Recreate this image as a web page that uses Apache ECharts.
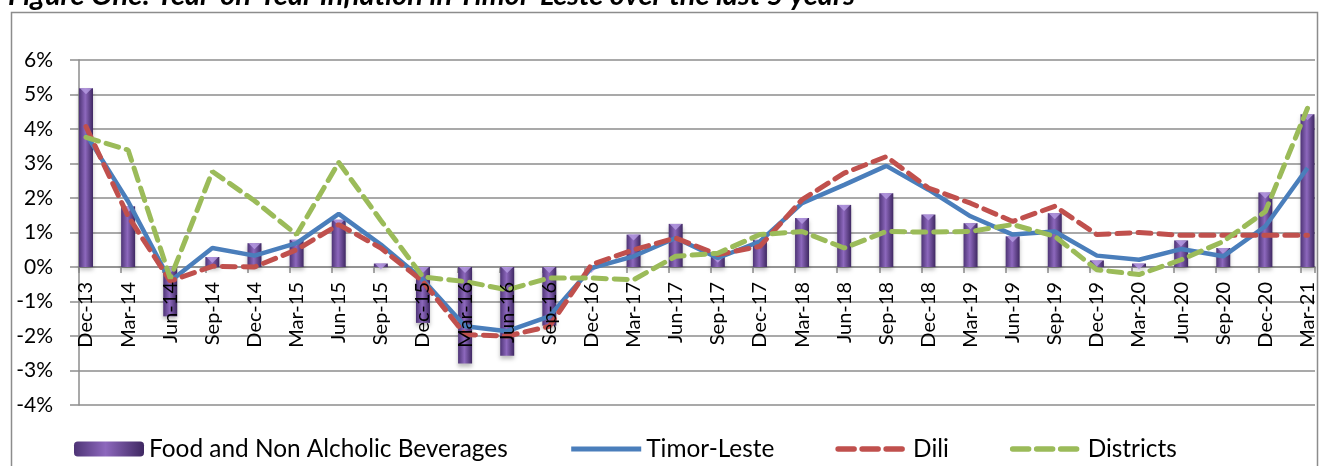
<!DOCTYPE html>
<html>
<head>
<meta charset="utf-8">
<script src="https://cdn.jsdelivr.net/npm/echarts@6/dist/echarts.min.js"></script>
<style>
  html, body { margin: 0; padding: 0; background: #fff; }
  #chart { width: 1319px; height: 466px; }
</style>
</head>
<body>
<div id="chart"></div>
<script>
(function() {
  // quarterly year-on-year inflation, in %
  var quarters = ['Dec-13', 'Mar-14', 'Jun-14', 'Sep-14', 'Dec-14', 'Mar-15', 'Jun-15', 'Sep-15', 'Dec-15', 'Mar-16',
    'Jun-16', 'Sep-16', 'Dec-16', 'Mar-17', 'Jun-17', 'Sep-17', 'Dec-17', 'Mar-18', 'Jun-18', 'Sep-18',
    'Dec-18', 'Mar-19', 'Jun-19', 'Sep-19', 'Dec-19', 'Mar-20', 'Jun-20', 'Sep-20', 'Dec-20', 'Mar-21'];
  var food = [5.18, 1.76, -1.43, 0.29, 0.69, 0.79, 1.37, 0.1, -1.62, -2.8,
    -2.57, -1.7, 0, 0.94, 1.25, 0.3, 0.79, 1.42, 1.8, 2.14,
    1.52, 1.27, 0.89, 1.56, 0.19, 0.1, 0.77, 0.55, 2.16, 4.43];
  var timorLeste = [3.85, 1.9, -0.41, 0.55, 0.33, 0.69, 1.54, 0.65, -0.37, -1.72,
    -1.86, -1.43, -0.03, 0.31, 0.84, 0.26, 0.74, 1.85, 2.38, 2.93,
    2.24, 1.47, 0.94, 1.03, 0.33, 0.21, 0.52, 0.31, 1.18, 2.87];
  var dili = [4.07, 1.47, -0.41, 0.02, 0.0, 0.5, 1.23, 0.55, -0.42, -1.96,
    -2.0, -1.72, 0.07, 0.5, 0.84, 0.36, 0.6, 1.95, 2.72, 3.2,
    2.29, 1.85, 1.32, 1.76, 0.94, 1.0, 0.92, 0.92, 0.92, 0.92];
  var districts = [3.76, 3.39, -0.33, 2.77, 1.92, 0.94, 3.03, 1.35, -0.29, -0.42,
    -0.66, -0.32, -0.32, -0.37, 0.31, 0.4, 0.94, 1.03, 0.55, 1.03,
    1.01, 1.03, 1.23, 0.89, -0.08, -0.22, 0.21, 0.74, 1.61, 4.6];
  var yTicks = { min: -4, max: 6, step: 1 };

  var font = 'Lato';
  var gridColor = '#8d8d8d';
  // plot area 60..405 px; the category axis sits on the 0% line
  var zeroShift = -(405 - (60 + 345 * yTicks.max / (yTicks.max - yTicks.min)));

  // the light cap drawn on the upper end of each column
  var caps = food.map(function(v, i) { return [quarters[i], Math.max(v, 0)]; });

  var chart = echarts.init(document.getElementById('chart'), null, { renderer: 'canvas' });
  chart.setOption({
    animation: false,
    backgroundColor: '#fff',
    textStyle: { fontFamily: font, color: '#000' },
    graphic: [
      {
        type: 'rect', left: 9, top: 10, silent: true,
        shape: { width: 1306, height: 520 },
        style: { fill: 'none', stroke: '#8c8c8c', lineWidth: 1.5 }
      },
      {
        type: 'text', x: 8, y: 10, silent: true,
        style: {
          text: 'Figure One: Year-on-Year Inflation in Timor-Leste over the last 5 years',
          font: 'italic bold 29px Lato', fill: '#000', verticalAlign: 'bottom'
        }
      }
    ],
    legend: {
      left: 69, top: 432,
      itemWidth: 70, itemHeight: 15, itemGap: 61,
      textStyle: { fontFamily: font, fontSize: 24.4, color: '#000' },
      data: [
        'Food and Non Alcholic Beverages',
        { name: 'Timor-Leste', itemStyle: { opacity: 0 }, lineStyle: { width: 5 } },
        { name: 'Dili', itemStyle: { opacity: 0 }, lineStyle: { width: 5.5, type: [16, 8] } },
        { name: 'Districts', itemStyle: { opacity: 0 }, lineStyle: { width: 5.5, type: [16, 8] } }
      ]
    },
    grid: [
      { left: 79, right: 4, top: 60, bottom: 61, outerBoundsMode: 'none' },
      { left: 86, right: 11.5, top: 60, bottom: 61, outerBoundsMode: 'none' }
    ],
    xAxis: [
      {
        gridIndex: 0, type: 'value', min: 0, max: 1236 / 42.12, interval: 1,
        offset: zeroShift,
        axisLine: { onZero: false, lineStyle: { color: gridColor, width: 1.5 } },
        axisTick: { show: true, length: 6, lineStyle: { color: gridColor, width: 1.5 } },
        axisLabel: { show: false },
        splitLine: { show: false }
      },
      {
        gridIndex: 1, type: 'category', data: quarters, boundaryGap: false,
        offset: zeroShift, z: 10,
        axisLine: { show: false, onZero: false },
        axisTick: { show: false },
        axisLabel: { rotate: 90, margin: 15, fontSize: 20, color: '#000', fontFamily: font, interval: 0 },
        splitLine: { show: false }
      }
    ],
    yAxis: [
      {
        gridIndex: 0, type: 'value', min: yTicks.min, max: yTicks.max, interval: yTicks.step,
        axisLine: { show: true, lineStyle: { color: gridColor, width: 1.5 } },
        axisTick: { show: true, length: 9, lineStyle: { color: gridColor, width: 1.5 } },
        axisLabel: { margin: 26, fontSize: 21, color: '#000', fontFamily: font, formatter: '{value}%' },
        splitLine: { show: true, lineStyle: { color: gridColor, width: 1.5 } }
      },
      {
        gridIndex: 1, type: 'value', min: yTicks.min, max: yTicks.max, interval: yTicks.step,
        axisLine: { show: false }, axisTick: { show: false },
        axisLabel: { show: false }, splitLine: { show: false }
      }
    ],
    series: [
      {
        name: 'Food and Non Alcholic Beverages',
        type: 'bar', xAxisIndex: 1, yAxisIndex: 1,
        data: food, barWidth: 14, clip: false,
        itemStyle: {
          color: new echarts.graphic.LinearGradient(0, 0, 1, 0, [
            { offset: 0, color: '#4e3476' },
            { offset: 0.45, color: '#8d68bd' },
            { offset: 1, color: '#3f2862' }
          ]),
          shadowColor: 'rgba(0,0,0,0.25)', shadowBlur: 4, shadowOffsetY: 3
        }
      },
      {
        name: 'cap', type: 'scatter', xAxisIndex: 1, yAxisIndex: 1,
        data: caps, symbol: 'triangle', symbolRotate: 180, symbolSize: [12, 6],
        symbolOffset: [0, 3], itemStyle: { color: '#b79ce3' }, silent: true, z: 3
      },
      {
        name: 'Timor-Leste', type: 'line', xAxisIndex: 1, yAxisIndex: 1,
        data: timorLeste, symbol: 'none', z: 4,
        lineStyle: { color: '#4a7ebb', width: 4.5 },
        itemStyle: { color: '#4a7ebb' }
      },
      {
        name: 'Dili', type: 'line', xAxisIndex: 1, yAxisIndex: 1,
        data: dili, symbol: 'none', z: 5,
        lineStyle: { color: '#c0504d', width: 5, type: [13, 8], cap: 'round' },
        itemStyle: { color: '#c0504d' }
      },
      {
        name: 'Districts', type: 'line', xAxisIndex: 1, yAxisIndex: 1,
        data: districts, symbol: 'none', z: 6,
        lineStyle: { color: '#9bbb59', width: 5, type: [13, 8], cap: 'round' },
        itemStyle: { color: '#9bbb59' }
      }
    ]
  });
  window.addEventListener('resize', function() { chart.resize(); });
})();
</script>
</body>
</html>
